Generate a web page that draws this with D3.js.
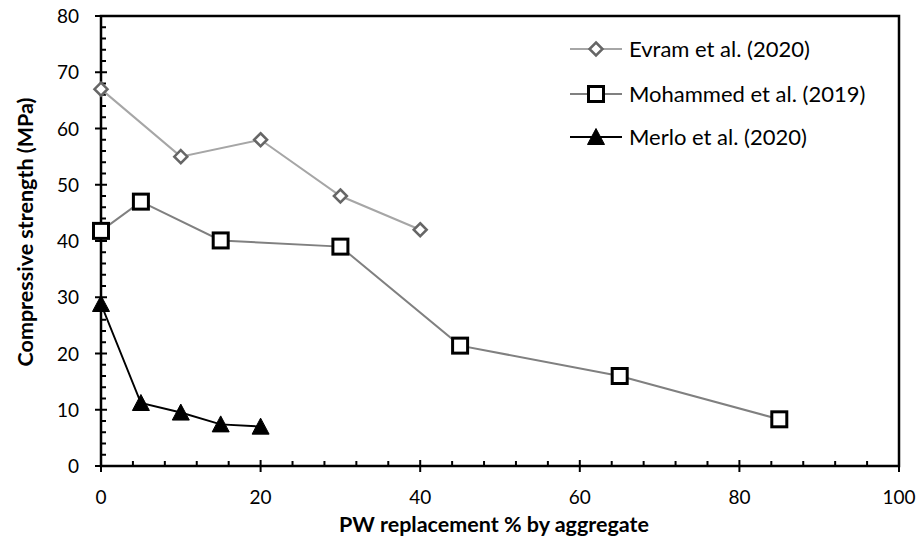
<!DOCTYPE html>
<html>
<head>
<meta charset="utf-8">
<script src="https://cdn.jsdelivr.net/npm/d3@7"></script>
<style>
  html, body { margin: 0; padding: 0; background: #fff; }
  svg { display: block; font-family: Lato, "Open Sans", sans-serif; }
</style>
</head>
<body>
<svg id="chart" width="920" height="550"></svg>
<script>
// Compressive strength vs plastic waste replacement
const evramX = [0, 10, 20, 30, 40];
const evramY = [67, 55, 58, 48, 42];
const mohammedX = [0, 5, 15, 30, 45, 65, 85];
const mohammedY = [41.8, 47, 40.1, 39, 21.4, 16, 8.3];
const merloX = [0, 5, 10, 15, 20];
const merloY = [28.8, 11.2, 9.5, 7.4, 7];
const seriesNames = ["Evram et al. (2020)", "Mohammed et al. (2019)", "Merlo et al. (2020)"];
const xTicks = [0, 20, 40, 60, 80, 100];
const yTicks = [0, 10, 20, 30, 40, 50, 60, 70, 80];

const svg = d3.select("#chart");
const plotL = 101, plotR = 899, plotT = 16, plotB = 466;

const x = d3.scaleLinear().domain([0, 100]).range([plotL, plotR]);
const y = d3.scaleLinear().domain([0, 80]).range([plotB, plotT]);

// frame
svg.append("rect")
  .attr("x", plotL).attr("y", plotT)
  .attr("width", plotR - plotL).attr("height", plotB - plotT)
  .attr("fill", "none").attr("stroke", "#000").attr("stroke-width", 2.5);

// minor ticks (inside)
const g = svg.append("g").attr("stroke", "#000").attr("stroke-width", 2);
d3.range(0, 100.01, 4).forEach(v => {
  if (v % 20 === 0) return;
  g.append("line").attr("x1", x(v)).attr("x2", x(v)).attr("y1", plotB).attr("y2", plotB - 5);
});
d3.range(0, 80.01, 2).forEach(v => {
  if (v % 10 === 0) return;
  g.append("line").attr("x1", plotL).attr("x2", plotL + 5).attr("y1", y(v)).attr("y2", y(v));
});
// major ticks (cross)
xTicks.forEach(v => {
  g.append("line").attr("x1", x(v)).attr("x2", x(v)).attr("y1", plotB - 6).attr("y2", plotB + 6);
});
yTicks.forEach(v => {
  g.append("line").attr("x1", plotL - 6).attr("x2", plotL + 6).attr("y1", y(v)).attr("y2", y(v));
});

// tick labels
svg.append("g").selectAll("text").data(xTicks).join("text")
  .attr("x", d => x(d)).attr("y", plotB + 38)
  .attr("text-anchor", "middle").attr("font-size", 19).attr("fill", "#000")
  .text(d => d);
svg.append("g").selectAll("text").data(yTicks).join("text")
  .attr("x", plotL - 22).attr("y", d => y(d) + 7)
  .attr("text-anchor", "end").attr("font-size", 19).attr("fill", "#000")
  .text(d => d);

// axis titles
svg.append("text")
  .attr("x", 494).attr("y", 532)
  .attr("text-anchor", "middle").attr("font-size", 21.5).attr("font-weight", "bold")
  .text("PW replacement % by aggregate");
svg.append("text")
  .attr("transform", `translate(33,232) rotate(-90)`)
  .attr("text-anchor", "middle").attr("font-size", 21.5).attr("font-weight", "bold")
  .text("Compressive strength (MPa)");

const line = d3.line().x(d => x(d[0])).y(d => y(d[1]));
const zip = (a, b) => a.map((v, i) => [v, b[i]]);

const evram = zip(evramX, evramY);
const mohammed = zip(mohammedX, mohammedY);
const merlo = zip(merloX, merloY);

// lines
svg.append("path").datum(evram).attr("d", line)
  .attr("fill", "none").attr("stroke", "#a6a6a6").attr("stroke-width", 2);
svg.append("path").datum(mohammed).attr("d", line)
  .attr("fill", "none").attr("stroke", "#808080").attr("stroke-width", 2);
svg.append("path").datum(merlo).attr("d", line)
  .attr("fill", "none").attr("stroke", "#000").attr("stroke-width", 2);

// marker drawers
function diamond(sel, cx, cy) {
  const r = 6.5;
  sel.append("path")
    .attr("d", `M${cx},${cy - r}L${cx + r},${cy}L${cx},${cy + r}L${cx - r},${cy}Z`)
    .attr("fill", "#fff").attr("stroke", "#666").attr("stroke-width", 2.5);
}
function square(sel, cx, cy) {
  const s = 15;
  sel.append("rect")
    .attr("x", cx - s / 2).attr("y", cy - s / 2).attr("width", s).attr("height", s)
    .attr("fill", "#fff").attr("stroke", "#000").attr("stroke-width", 3);
}
function triangle(sel, cx, cy) {
  const h = 15, w = 17;
  sel.append("path")
    .attr("d", `M${cx},${cy - h / 2 - 1}L${cx + w / 2},${cy + h / 2}L${cx - w / 2},${cy + h / 2}Z`)
    .attr("fill", "#000").attr("stroke", "#000").attr("stroke-width", 1);
}

const mk = svg.append("g");
evram.forEach(d => diamond(mk, x(d[0]), y(d[1])));
mohammed.forEach(d => square(mk, x(d[0]), y(d[1])));
merlo.forEach(d => triangle(mk, x(d[0]), y(d[1])));

// legend
const legend = svg.append("g");
const lx0 = 570, lx1 = 622, textX = 629;
const rows = [
  { y: 49, color: "#a6a6a6", draw: diamond },
  { y: 94, color: "#808080", draw: square },
  { y: 137, color: "#000", draw: triangle }
];
rows.forEach((r, i) => {
  legend.append("line").attr("x1", lx0).attr("x2", lx1).attr("y1", r.y).attr("y2", r.y)
    .attr("stroke", r.color).attr("stroke-width", 2);
  r.draw(legend, (lx0 + lx1) / 2, r.y);
  legend.append("text").attr("x", textX).attr("y", r.y + 8)
    .attr("font-size", 22).attr("fill", "#000").text(seriesNames[i]);
});
</script>
</body>
</html>
